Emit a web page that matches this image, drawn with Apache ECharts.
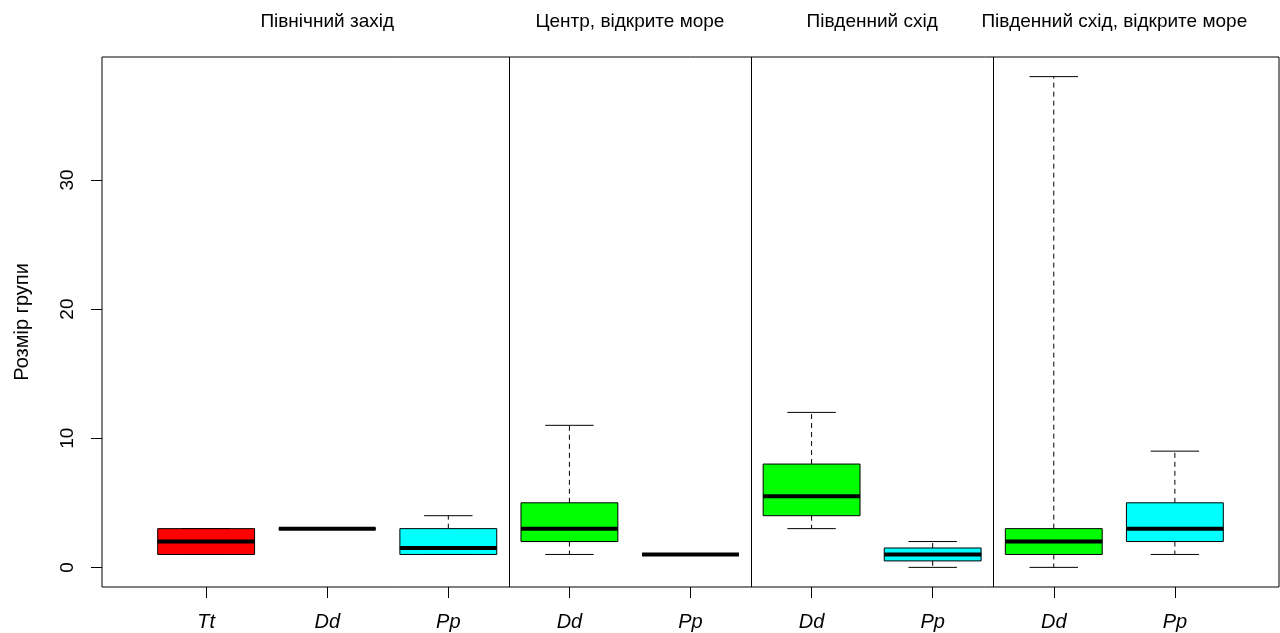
<!DOCTYPE html>
<html>
<head>
<meta charset="utf-8">
<script src="https://cdn.jsdelivr.net/npm/echarts@6/dist/echarts.min.js"></script>
<style>
  html, body { margin: 0; padding: 0; background: #fff; }
  #chart { width: 1280px; height: 633px; }
</style>
</head>
<body>
<div id="chart"></div>
<script>
// box statistics, one entry per box (positions 1..9)
var categories = ["Tt", "Dd", "Pp", "Dd", "Pp", "Dd", "Pp", "Dd", "Pp"];
var boxColors = ["#ff0000", "#00ff00", "#00ffff", "#00ff00", "#00ffff", "#00ff00", "#00ffff", "#00ff00", "#00ffff"];
var whiskerLow = [1, 3, 1, 1, 1, 3, 0, 0, 1];
var q1 = [1, 3, 1, 2, 1, 4, 0.5, 1, 2];
var medians = [2, 3, 1.5, 3, 1, 5.5, 1, 2, 3];
var q3 = [3, 3, 3, 5, 1, 8, 1.5, 3, 5];
var whiskerHigh = [3, 3, 4, 11, 1, 12, 2, 38, 9];

var groupNames = ["Північний захід", "Центр, відкрите море", "Південний схід", "Південний схід, відкрите море"];
var groupCenters = [2, 4.5, 6.5, 8.5];
var separators = [3.5, 5.5, 7.5];
var yTicks = [0, 10, 20, 30];

var font = "'Liberation Sans', Arial, sans-serif";
var positions = categories.map(function (c, i) { return i + 1; });

var boxData = positions.map(function (p, i) {
  return [p, whiskerLow[i], q1[i], medians[i], q3[i], whiskerHigh[i]];
});

function renderBox(params, api) {
  var x = api.value(0);
  var lo = api.coord([x, api.value(1)]);
  var b1 = api.coord([x, api.value(2)]);
  var md = api.coord([x, api.value(3)]);
  var b3 = api.coord([x, api.value(4)]);
  var hi = api.coord([x, api.value(5)]);
  var bw = api.size([0.8, 0])[0];
  var cw = bw / 2;
  var cx = lo[0];
  var dash = { stroke: "#000", lineWidth: 1, lineDash: [5, 4] };
  var solid = { stroke: "#000", lineWidth: 1 };
  return {
    type: "group",
    children: [
      { type: "line", shape: { x1: cx, y1: b3[1], x2: cx, y2: hi[1] }, style: dash },
      { type: "line", shape: { x1: cx, y1: b1[1], x2: cx, y2: lo[1] }, style: dash },
      { type: "line", shape: { x1: cx - cw / 2, y1: hi[1], x2: cx + cw / 2, y2: hi[1] }, style: solid },
      { type: "line", shape: { x1: cx - cw / 2, y1: lo[1], x2: cx + cw / 2, y2: lo[1] }, style: solid },
      {
        type: "rect",
        shape: { x: cx - bw / 2, y: b3[1], width: bw, height: b1[1] - b3[1] },
        style: { fill: boxColors[params.dataIndex], stroke: "#000", lineWidth: 1 }
      },
      {
        type: "line",
        shape: { x1: cx - bw / 2, y1: md[1], x2: cx + bw / 2, y2: md[1] },
        style: { stroke: "#000", lineWidth: 4 }
      }
    ]
  };
}

var chart = echarts.init(document.getElementById("chart"));

chart.setOption({
  animation: false,
  backgroundColor: "#fff",
  grid: {
    left: 102, right: 1, top: 57, bottom: 46,
    show: true, borderColor: "#000", borderWidth: 1, backgroundColor: "transparent"
  },
  xAxis: [
    {
      type: "value",
      min: 0.14,
      max: 9.86,
      position: "bottom",
      splitLine: { show: false },
      axisLine: { show: false, onZero: false },
      axisTick: { show: true, length: 11, customValues: positions, lineStyle: { color: "#000" } },
      axisLabel: {
        customValues: positions,
        margin: 25,
        fontSize: 20,
        fontStyle: "italic",
        fontFamily: font,
        color: "#000",
        formatter: function (v) { return categories[Math.round(v) - 1]; }
      }
    },
    {
      type: "value",
      min: 0.14,
      max: 9.86,
      position: "top",
      splitLine: { show: false },
      axisLine: { show: false, onZero: false },
      axisTick: { show: false },
      axisLabel: {
        customValues: groupCenters,
        margin: 26,
        fontSize: 19,
        fontFamily: font,
        color: "#000",
        formatter: function (v) { return groupNames[groupCenters.indexOf(v)]; }
      }
    }
  ],
  yAxis: {
    type: "value",
    min: -1.52,
    max: 39.52,
    name: "Розмір групи",
    nameLocation: "middle",
    nameGap: 70,
    nameTextStyle: { fontSize: 20, fontFamily: font, color: "#000" },
    splitLine: { show: false },
    axisLine: { show: false, onZero: false },
    axisTick: { show: true, length: 11, customValues: yTicks, lineStyle: { color: "#000" } },
    axisLabel: {
      customValues: yTicks,
      rotate: 90,
      margin: 25,
      fontSize: 19,
      fontFamily: font,
      color: "#000"
    }
  },
  series: [
    {
      type: "custom",
      renderItem: renderBox,
      data: boxData,
      encode: { x: 0, y: [1, 2, 3, 4, 5] },
      silent: true,
      z: 3,
      markLine: {
        silent: true,
        symbol: "none",
        label: { show: false },
        lineStyle: { color: "#000", width: 1, type: "solid" },
        data: separators.map(function (s) { return { xAxis: s }; })
      }
    }
  ]
});
</script>
</body>
</html>
